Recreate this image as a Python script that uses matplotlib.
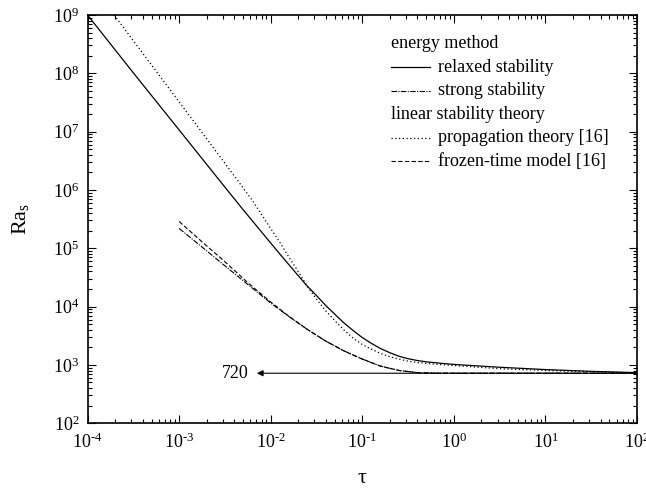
import math

import matplotlib
matplotlib.use('Agg')
import matplotlib.pyplot as plt
from matplotlib import rcParams
from matplotlib.ticker import FuncFormatter

"""----Data (read off the figure)----"""
# energy method, relaxed stability
tau_relaxed = [1e-4, 3.16e-4, 1e-3, 3.16e-3, 5.01e-3, 1e-2, 1.41e-2, 2.0e-2, 2.51e-2, 3.16e-2,
               3.98e-2, 5.01e-2, 6.31e-2, 7.94e-2, 0.1, 0.126, 0.158, 0.2, 0.251, 0.316,
               0.398, 0.501, 0.708, 1.0, 3.16, 10.0, 31.6, 100.0]
ra_relaxed = [1.0e9, 1.02e8, 1.07e7, 1.12e6, 4.57e5, 1.23e5, 6.46e4, 3.39e4, 2.24e4, 1.55e4,
              1.05e4, 7.41e3, 5.25e3, 3.89e3, 2.95e3, 2.34e3, 1.91e3, 1.62e3, 1.41e3, 1.28e3,
              1.19e3, 1.13e3, 1.07e3, 1.02e3, 912, 832, 776, 738]

# energy method, strong stability
tau_strong = [1e-3, 1.78e-3, 3.16e-3, 5.62e-3, 1e-2, 1.58e-2, 2.51e-2, 3.98e-2, 6.31e-2,
              0.1, 0.158, 0.251, 0.398, 0.631, 1.0, 100.0]
ra_strong = [2.19e5, 1.05e5, 5.01e4, 2.40e4, 1.15e4, 6.76e3, 4.07e3, 2.57e3, 1.74e3,
             1.26e3, 955, 804, 738, 721, 720, 720]

# linear stability theory, propagation theory [16]
tau_prop = [1.95e-4, 3.16e-4, 1e-3, 3.16e-3, 6.31e-3, 8.91e-3, 1.26e-2, 1.58e-2, 2.0e-2, 2.51e-2,
            3.16e-2, 3.98e-2, 5.01e-2, 6.31e-2, 7.94e-2, 0.1, 0.126, 0.158, 0.2, 0.251,
            0.316, 0.398, 0.501, 1.0, 3.16, 10.0, 31.6, 100.0]
ra_prop = [1.0e9, 3.63e8, 3.24e7, 2.88e6, 6.61e5, 2.88e5, 1.26e5, 7.08e4, 3.98e4, 2.24e4,
           1.35e4, 8.51e3, 5.75e3, 3.98e3, 2.88e3, 2.24e3, 1.86e3, 1.58e3, 1.38e3, 1.26e3,
           1.16e3, 1.10e3, 1.06e3, 977, 861, 804, 762, 728]

# linear stability theory, frozen-time model [16]
tau_frozen = [1e-3, 1.78e-3, 3.16e-3, 5.62e-3, 1e-2, 1.58e-2, 2.51e-2, 3.98e-2, 6.31e-2,
              0.1, 0.158, 0.251, 0.398, 0.631, 1.0, 100.0]
ra_frozen = [2.88e5, 1.29e5, 5.89e4, 2.57e4, 1.20e4, 6.84e3, 4.07e3, 2.57e3, 1.74e3,
             1.26e3, 955, 804, 738, 721, 720, 720]

ra_limit = 720

"""----Config----"""
rcParams.update({'font.family': 'serif',
                 'font.serif': ['Liberation Serif', 'DejaVu Serif'],
                 'mathtext.fontset': 'custom',
                 'mathtext.rm': 'Liberation Serif',
                 'mathtext.it': 'Liberation Serif:italic',
                 'mathtext.bf': 'Liberation Serif:bold',
                 'axes.unicode_minus': False,
                 'font.size': 12})

ls_strong = (0, (5, 1.2, 1, 1.2))
ls_prop = (0, (1, 2))
ls_frozen = (0, (4, 2))


def decade_label(value, pos):
    # 10^n with a plain hyphen for negative exponents
    exp = int(round(math.log10(value)))
    if exp < 0:
        return r'$\mathrm{10}^{\text{-%d}}$' % -exp
    return r'$\mathrm{10}^{\mathrm{%d}}$' % exp


def main():
    fig = plt.figure(figsize=(6.46, 4.91), dpi=100)
    ax = fig.add_axes([0.1355, 0.138, 0.8505, 0.8315])

    ax.plot(tau_relaxed, ra_relaxed, color='black', lw=0.9, ls='-')
    ax.plot(tau_strong, ra_strong, color='black', lw=0.8, ls=ls_strong)
    ax.plot(tau_prop, ra_prop, color='black', lw=0.9, ls=ls_prop)
    ax.plot(tau_frozen, ra_frozen, color='black', lw=0.8, ls=ls_frozen)

    ax.set_xscale('log')
    ax.set_yscale('log')
    ax.set_xlim(1e-4, 1e2)
    ax.set_ylim(1e2, 1e9)
    ax.xaxis.set_major_formatter(FuncFormatter(decade_label))
    ax.yaxis.set_major_formatter(FuncFormatter(decade_label))

    # arrow pointing at the asymptotic value
    ax.annotate('', xy=(7.06e-3, ra_limit), xytext=(100, ra_limit),
                arrowprops=dict(arrowstyle='-|>', color='black', lw=0.8,
                                shrinkA=0, shrinkB=0, mutation_scale=9))
    ax.text(5.8e-3, ra_limit, str(ra_limit), ha='right', va='center', fontsize=13)

    # legend with section headers
    x0, x1, xt = 0.552, 0.624, 0.638
    rows = [0.930, 0.872, 0.815, 0.757, 0.699, 0.642]
    ax.text(x0, rows[0], 'energy method', transform=ax.transAxes, va='center', fontsize=13)
    ax.plot([x0, x1], [rows[1]] * 2, transform=ax.transAxes, color='black', lw=0.9, ls='-')
    ax.text(xt, rows[1], 'relaxed stability', transform=ax.transAxes, va='center', fontsize=13)
    ax.plot([x0, x1], [rows[2]] * 2, transform=ax.transAxes, color='black', lw=0.8, ls=ls_strong)
    ax.text(xt, rows[2], 'strong stability', transform=ax.transAxes, va='center', fontsize=13)
    ax.text(x0, rows[3], 'linear stability theory', transform=ax.transAxes, va='center', fontsize=13)
    ax.plot([x0, x1], [rows[4]] * 2, transform=ax.transAxes, color='black', lw=0.9, ls=ls_prop)
    ax.text(xt, rows[4], 'propagation theory [16]', transform=ax.transAxes, va='center', fontsize=13)
    ax.plot([x0, x1], [rows[5]] * 2, transform=ax.transAxes, color='black', lw=0.8, ls=ls_frozen)
    ax.text(xt, rows[5], 'frozen-time model [16]', transform=ax.transAxes, va='center', fontsize=13)

    ax.tick_params(which='both', direction='in', top=True, right=True, width=0.8)
    ax.tick_params(which='major', length=5.8, labelsize=13)
    ax.tick_params(which='minor', length=3)
    ax.tick_params(axis='x', which='major', pad=7)
    ax.tick_params(axis='y', which='major', pad=6)
    for spine in ax.spines.values():
        spine.set_linewidth(1.2)

    ax.set_xlabel('τ', fontsize=16, labelpad=12)
    ax.set_ylabel(r'$\mathrm{Ra_s}$', fontsize=16, labelpad=16)

    fig.savefig('out.png', dpi=100)


if __name__ == '__main__':
    main()
